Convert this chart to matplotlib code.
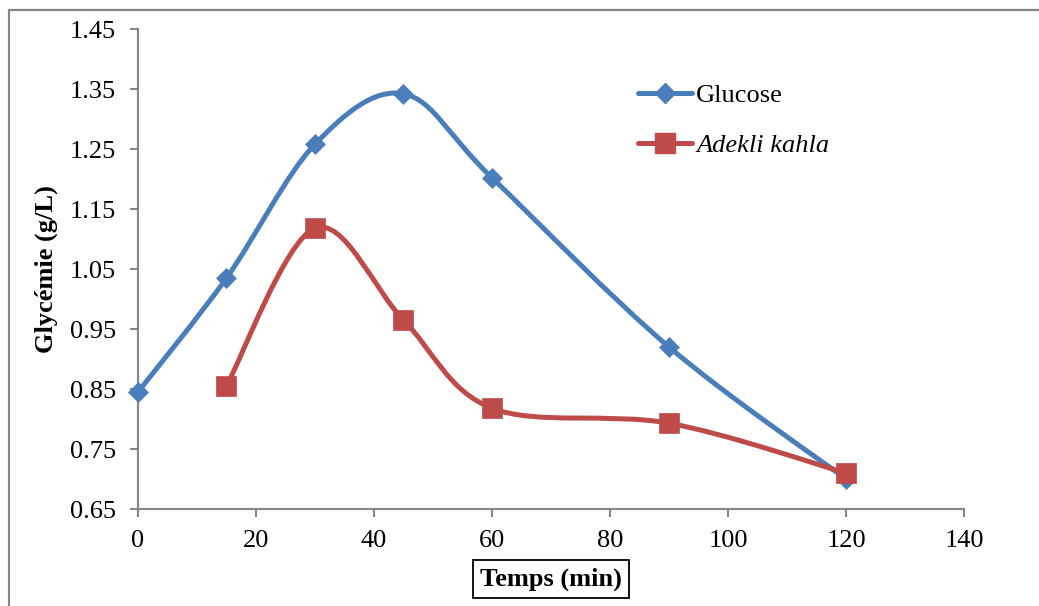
import numpy as np
import matplotlib
matplotlib.use("Agg")
import matplotlib.pyplot as plt
from matplotlib.path import Path
from matplotlib.patches import PathPatch, Rectangle
from matplotlib.lines import Line2D

# ---- data ----
glucose_t = [0, 15, 30, 45, 60, 90, 120]
glucose_v = [0.845, 1.035, 1.258, 1.342, 1.202, 0.920, 0.700]
adekli_t = [15, 30, 45, 60, 90, 120]
adekli_v = [0.855, 1.118, 0.965, 0.818, 0.793, 0.710]
series_names = ["Glucose", "Adekli kahla"]
x_ticks = [0, 20, 40, 60, 80, 100, 120, 140]
y_ticks = [0.65, 0.75, 0.85, 0.95, 1.05, 1.15, 1.25, 1.35, 1.45]

BLUE = "#4A7EBB"
RED = "#BE4B48"
GRAY = "#868686"
FONT = "Liberation Serif"
FS = 19

plt.rcParams['font.family'] = [FONT, 'DejaVu Serif']


def smooth_path(xs, ys):
    """Excel-like smoothed line: Catmull-Rom segments as cubic Beziers."""
    pts = np.column_stack([xs, ys]).astype(float)
    n = len(pts)
    verts = [pts[0]]
    codes = [Path.MOVETO]
    for i in range(n - 1):
        p0 = pts[i - 1] if i > 0 else pts[i]
        p1 = pts[i]
        p2 = pts[i + 1]
        p3 = pts[i + 2] if i + 2 < n else pts[i + 1]
        c1 = p1 + (p2 - p0) / 6.0
        c2 = p2 - (p3 - p1) / 6.0
        verts += [c1, c2, p2]
        codes += [Path.CURVE4] * 3
    return Path(verts, codes)


fig = plt.figure(figsize=(10.39, 6.06), dpi=100)
ax = fig.add_axes([138 / 1039, 1 - 509 / 606, (964 - 138) / 1039, (509 - 29) / 606])

# outer chart border (top and left visible)
fig.patches.append(Rectangle((8.5 / 1039, -0.05), 1.2, 1 - 9.5 / 606 + 0.05,
                             transform=fig.transFigure, fill=False,
                             edgecolor=GRAY, linewidth=1.6, zorder=0))

D_MS, S_MS = 10.5, 14
for xs, ys, col, mk, ms in [(glucose_t, glucose_v, BLUE, 'D', D_MS),
                            (adekli_t, adekli_v, RED, 's', S_MS)]:
    patch = PathPatch(smooth_path(xs, ys), facecolor='none', edgecolor=col,
                      linewidth=3.6, capstyle='round', joinstyle='round', zorder=3)
    ax.add_patch(patch)
    ax.plot(xs, ys, linestyle='none', marker=mk, markersize=ms, color=col,
            markeredgecolor=col, markeredgewidth=0.5, zorder=4, clip_on=False)

ax.set_xlim(0, 140)
ax.set_ylim(0.65, 1.45)
ax.set_xticks(x_ticks)
ax.set_yticks(y_ticks)
ax.set_xticklabels([str(t) for t in x_ticks])
ax.set_yticklabels([f"{t:.2f}" for t in y_ticks])

for s in ['top', 'right']:
    ax.spines[s].set_visible(False)
for s in ['left', 'bottom']:
    ax.spines[s].set_color(GRAY)
    ax.spines[s].set_linewidth(1.5)
ax.tick_params(axis='both', direction='out', length=6, width=1.5, color=GRAY,
               labelsize=FS, labelcolor='black')
ax.tick_params(axis='y', pad=10)
ax.tick_params(axis='x', pad=9)
for lab in ax.get_xticklabels() + ax.get_yticklabels():
    lab.set_fontfamily(FONT)

fig.text(46 / 1039, 1 - 269 / 606, "Glycémie (g/L)", fontsize=FS, fontweight='bold',
         fontfamily=FONT, rotation=90, ha='center', va='center')

fig.text(551 / 1039, 1 - 579 / 606, "Temps (min)", fontsize=FS, fontweight='bold',
         fontfamily=FONT, ha='center', va='center',
         bbox=dict(boxstyle='square,pad=0.28', facecolor='white',
                   edgecolor='black', linewidth=1.3))

handles = [Line2D([], [], color=BLUE, lw=3.6, marker='D', markersize=D_MS, solid_capstyle='round'),
           Line2D([], [], color=RED, lw=3.6, marker='s', markersize=S_MS, solid_capstyle='round')]
leg = ax.legend(handles, series_names, loc='upper left',
                bbox_to_anchor=(638 / 1039, 1 - 84 / 606), bbox_transform=fig.transFigure,
                frameon=False, fontsize=FS, handlelength=2.05, handletextpad=0.15,
                labelspacing=1.0, borderpad=0, borderaxespad=0)
leg.get_texts()[1].set_fontstyle('italic')
for t in leg.get_texts():
    t.set_fontfamily(FONT)

fig.savefig("out.png", dpi=100)
